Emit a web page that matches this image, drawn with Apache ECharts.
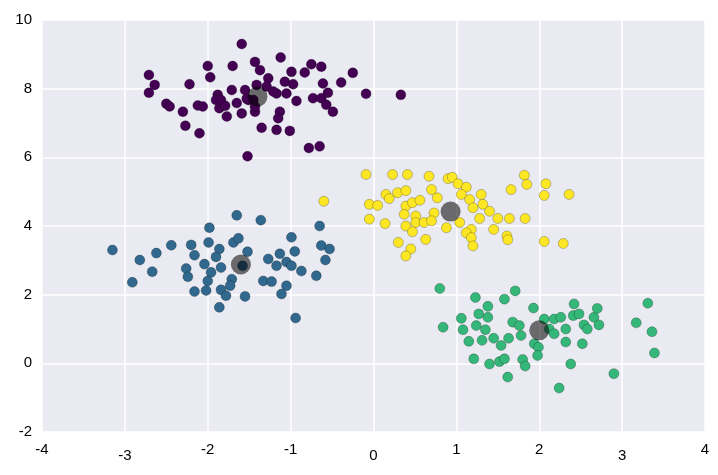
<!DOCTYPE html>
<html><head><meta charset="utf-8">
<script src="https://cdn.jsdelivr.net/npm/echarts@6/dist/echarts.min.js"></script>
<style>html,body{margin:0;padding:0;background:#fff}#c{width:718px;height:475px}</style>
</head><body><div id="c"></div>
<script>
const xTicks = [-4,-3,-2,-1,0,1,2,3,4];
const yTicks = [-2,0,2,4,6,8,10];
const purple = [[-1.59,9.30],[-1.12,8.91],[-2.71,8.40],[-2.64,8.11],[-2.71,7.88],[-2.00,8.66],[-1.70,8.66],[-1.97,8.33],[-1.43,8.78],[-1.37,8.54],[-2.22,8.13],[-2.50,7.56],[-2.46,7.48],[-2.30,7.33],[-2.27,6.92],[-2.10,6.70],[-2.12,7.51],[-2.06,7.48],[-1.88,7.82],[-1.90,7.67],[-1.86,7.43],[-1.77,7.19],[-1.71,7.96],[-1.65,7.58],[-1.59,7.28],[-1.55,7.96],[-1.51,7.67],[-1.43,7.33],[-1.41,8.11],[-1.35,6.86],[-1.27,8.30],[-1.29,8.06],[-1.17,7.86],[-1.07,8.20],[-1.05,7.86],[-0.99,8.49],[-0.97,8.13],[-1.13,7.33],[-1.15,7.14],[-1.17,6.80],[-1.01,6.77],[-0.93,7.64],[-0.83,8.47],[-0.75,8.71],[-0.63,8.64],[-0.73,7.72],[-0.63,7.72],[-0.61,8.15],[-0.55,7.88],[-0.57,7.53],[-0.49,7.33],[-0.39,8.18],[-0.25,8.46],[-0.09,7.85],[0.33,7.82],[-0.78,6.27],[-0.65,6.32],[-1.52,6.03],[-1.45,7.67],[-1.43,7.48],[-1.84,7.67],[-1.53,7.71],[-1.21,7.92],[-1.79,7.50]];
const blue = [[-1.65,4.31],[-1.36,4.17],[-1.98,3.95],[-0.65,4.00],[-3.15,3.30],[-2.82,3.01],[-2.62,3.21],[-2.44,3.44],[-2.20,3.45],[-1.99,3.52],[-2.67,2.67],[-2.91,2.36],[-2.16,3.15],[-2.04,2.89],[-2.26,2.76],[-2.24,2.52],[-1.86,3.33],[-1.90,3.10],[-1.84,2.79],[-1.96,2.65],[-2.00,2.40],[-2.16,2.09],[-2.02,2.12],[-1.84,2.14],[-1.78,1.97],[-1.86,1.63],[-1.55,1.95],[-1.71,2.45],[-1.73,2.26],[-1.69,3.52],[-1.63,3.64],[-1.52,3.25],[-1.58,2.84],[-1.33,2.40],[-1.23,2.38],[-1.27,3.04],[-1.17,2.84],[-1.13,3.19],[-1.05,2.95],[-0.99,3.67],[-0.95,3.26],[-0.99,2.84],[-0.87,2.69],[-1.05,2.26],[-1.11,2.02],[-0.69,2.55],[-0.63,3.43],[-0.53,3.33],[-0.58,3.01],[-0.94,1.32]];
const yellow = [[-0.60,4.72],[-0.09,5.50],[0.23,5.50],[0.41,5.50],[0.67,5.45],[0.90,5.38],[0.95,5.42],[1.02,5.23],[1.12,5.13],[0.70,5.06],[0.77,4.82],[1.06,4.92],[1.30,4.92],[1.66,5.06],[1.82,5.48],[1.85,5.21],[2.08,5.23],[2.06,4.89],[2.36,4.92],[0.15,4.92],[0.29,4.97],[0.39,5.03],[0.19,4.80],[-0.05,4.63],[0.05,4.60],[0.39,4.58],[0.47,4.68],[0.56,4.75],[0.37,4.34],[0.51,4.29],[0.73,4.38],[-0.05,4.20],[0.14,4.07],[0.39,4.00],[0.51,4.10],[0.61,4.10],[0.70,4.15],[0.47,3.83],[0.63,3.61],[0.88,3.95],[1.04,4.10],[1.16,4.77],[1.20,4.53],[1.32,4.63],[1.40,4.43],[1.28,4.22],[1.50,4.22],[1.64,4.22],[1.83,4.22],[1.18,3.90],[1.12,3.80],[1.18,3.66],[1.45,3.90],[1.61,3.71],[1.62,3.60],[1.20,3.42],[2.06,3.55],[2.29,3.49],[0.30,3.52],[0.45,3.33],[0.39,3.13]];
const green = [[0.80,2.18],[1.23,1.92],[1.58,1.87],[1.71,2.11],[1.38,1.66],[1.27,1.44],[1.38,1.34],[1.06,1.31],[0.84,1.05],[1.08,0.98],[1.24,1.10],[1.35,0.98],[1.15,0.64],[1.31,0.67],[1.45,0.73],[1.54,0.52],[1.63,0.73],[1.68,1.20],[1.76,1.10],[1.78,0.81],[1.93,1.61],[1.94,0.57],[1.99,0.47],[1.98,0.23],[2.06,1.29],[2.12,1.00],[2.18,1.29],[2.26,1.34],[2.18,0.86],[2.32,1.00],[2.32,0.62],[2.42,1.73],[2.41,1.39],[2.48,1.44],[2.54,1.12],[2.52,0.57],[2.58,1.00],[2.66,1.34],[2.70,1.60],[2.72,1.12],[1.21,0.13],[1.40,-0.02],[1.52,0.05],[1.58,0.13],[1.80,0.11],[1.83,-0.08],[1.62,-0.40],[2.38,-0.02],[2.24,-0.72],[2.90,-0.30],[3.17,1.18],[3.31,1.75],[3.36,0.92],[3.39,0.30]];
const centers = [[-1.40,7.77],[-1.60,2.88],[0.93,4.42],[2.00,0.96]];
const colors = ['#440154','#31688e','#fde725','#35b779'];
const lowLabels = [-3,0,3];

const chart = echarts.init(document.getElementById('c'));
const mk = (d,c)=>({type:'scatter',data:d,symbolSize:10,itemStyle:{color:c,opacity:1,borderColor:'rgba(0,0,0,0.3)',borderWidth:0.8}});
chart.setOption({
  animation:false,
  backgroundColor:'#fff',
  grid:{left:42,right:13,top:20,bottom:43,show:true,backgroundColor:'#eaeaf2',borderWidth:0},
  xAxis:{type:'value',min:xTicks[0],max:xTicks[xTicks.length-1],interval:1,
    axisLine:{show:false},axisTick:{show:false},
    axisLabel:{color:'#000',fontSize:15,fontFamily:'Liberation Sans',margin:10,
      formatter:v=>lowLabels.includes(v)?'{l|'+v+'}':'{n|'+v+'}',
      rich:{n:{fontSize:15,color:'#000',padding:[0,0,0,0]},l:{fontSize:15,color:'#000',padding:[6,0,0,0]}}},
    splitLine:{lineStyle:{color:'#fff',width:1.5}}},
  yAxis:{type:'value',min:yTicks[0],max:yTicks[yTicks.length-1],interval:2,
    axisLine:{show:false},axisTick:{show:false},
    axisLabel:{color:'#000',fontSize:15,fontFamily:'Liberation Sans',margin:10},
    splitLine:{lineStyle:{color:'#fff',width:1.5}}},
  series:[mk(purple,colors[0]),mk(blue,colors[1]),mk(yellow,colors[2]),mk(green,colors[3]),
    {type:'scatter',data:centers,symbolSize:20,itemStyle:{color:'rgba(0,0,0,0.55)',opacity:1},z:5}]
});
</script></body></html>
